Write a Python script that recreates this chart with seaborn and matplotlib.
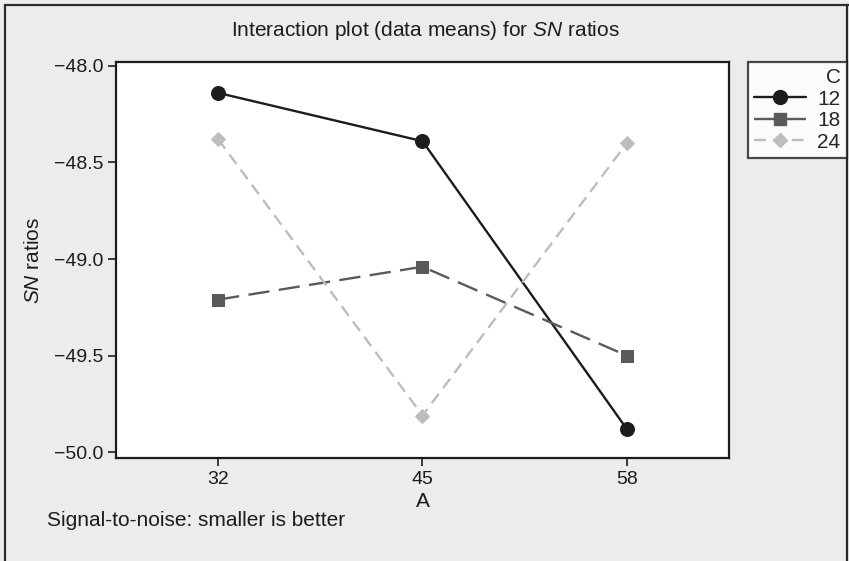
import matplotlib
matplotlib.use("Agg")
import matplotlib.pyplot as plt
import seaborn as sns
import pandas as pd
from matplotlib.lines import Line2D

# Factor levels and mean SN ratios
a_levels = [32, 45, 58]
c_levels = ["12", "18", "24"]
sn_c12 = [-48.14, -48.39, -49.88]
sn_c18 = [-49.21, -49.04, -49.50]
sn_c24 = [-48.38, -49.81, -48.40]

df = pd.DataFrame({
    "A": a_levels * 3,
    "C": [c for c in c_levels for _ in a_levels],
    "SN": sn_c12 + sn_c18 + sn_c24,
})

sns.set_theme(style="white")
fam = "Liberation Sans"
plt.rcParams["font.family"] = [fam, "DejaVu Sans"]
plt.rcParams["mathtext.fontset"] = "custom"
plt.rcParams["mathtext.it"] = fam + ":italic"
plt.rcParams["mathtext.rm"] = fam
plt.rcParams["axes.unicode_minus"] = True

FS = 15
TICK_FS = 14
INK = "#1c1c1c"

fig = plt.figure(figsize=(8.49, 5.61), dpi=100)
fig.patch.set_facecolor("#ececec")
ax = fig.add_axes([116 / 849, 1 - 458 / 561, (729 - 116) / 849, (458 - 62) / 561])
ax.set_facecolor("white")

colors = {"12": "#1c1c1c", "18": "#5a5a5a", "24": "#bdbdbd"}
markers = {"12": "o", "18": "s", "24": "D"}
dashes = {"12": (None, None), "18": (9, 4), "24": (5, 3)}
msize = {"12": 10, "18": 8, "24": 7.5}

for c in c_levels:
    sub = df[df["C"] == c]
    sns.lineplot(data=sub, x="A", y="SN", ax=ax, color=colors[c],
                 marker=markers[c], markersize=msize[c],
                 markeredgecolor=colors[c], linewidth=1.7, legend=False)
    if c != "12":
        ax.lines[-1].set_dashes(dashes[c])

ax.set_xlim(25.5, 64.5)
ax.set_ylim(-50.03, -47.98)
ax.set_xticks(a_levels)
ax.set_xticklabels([str(v) for v in a_levels])
ax.set_yticks([-48.0, -48.5, -49.0, -49.5, -50.0])
ax.set_yticklabels(["\u221248.0", "\u221248.5", "\u221249.0", "\u221249.5", "\u221250.0"])
ax.tick_params(axis="both", direction="out", length=6, width=1.2, labelsize=TICK_FS,
               colors=INK, bottom=True, left=True, pad=3)
for s in ax.spines.values():
    s.set_color(INK)
    s.set_linewidth(1.6)

ax.set_xlabel("A", fontsize=FS, color=INK, labelpad=3)
ax.set_ylabel(r"$\mathit{SN}$ ratios", fontsize=FS, color=INK, labelpad=8)

fig.text(425 / 849, 1 - 31 / 561, r"Interaction plot (data means) for $\mathit{SN}$ ratios",
         ha="center", va="center", fontsize=FS, color=INK)
fig.text(47 / 849, 1 - 520 / 561, "Signal-to-noise: smaller is better",
         ha="left", va="center", fontsize=FS, color=INK)

# Outer frame lines
for xs, ys in [([5 / 849, 5 / 849], [0, 1 - 5 / 561]),
               ([5 / 849, 1], [1 - 5 / 561, 1 - 5 / 561]),
               ([847 / 849, 847 / 849], [0, 1 - 5 / 561])]:
    fig.add_artist(Line2D(xs, ys, transform=fig.transFigure, color="#2a2a2a", linewidth=1.6))

handles = [Line2D([0], [0], color=colors[c], marker=markers[c], markersize=msize[c],
                  markeredgecolor=colors[c], linewidth=1.7,
                  dashes=dashes[c] if c != "12" else (None, None)) for c in c_levels]
leg = fig.legend(handles, c_levels, title="C", loc="upper right",
                 bbox_to_anchor=(847 / 849, 1 - 62 / 561), frameon=True,
                 fontsize=FS, title_fontsize=FS, handlelength=2.5,
                 handletextpad=0.55, borderpad=0.3, labelspacing=0.12,
                 borderaxespad=0, fancybox=False, alignment="right")
leg.get_frame().set_edgecolor(INK)
leg.get_frame().set_linewidth(1.6)
leg.get_frame().set_facecolor("white")

fig.savefig("out.png", dpi=100, facecolor=fig.get_facecolor())
